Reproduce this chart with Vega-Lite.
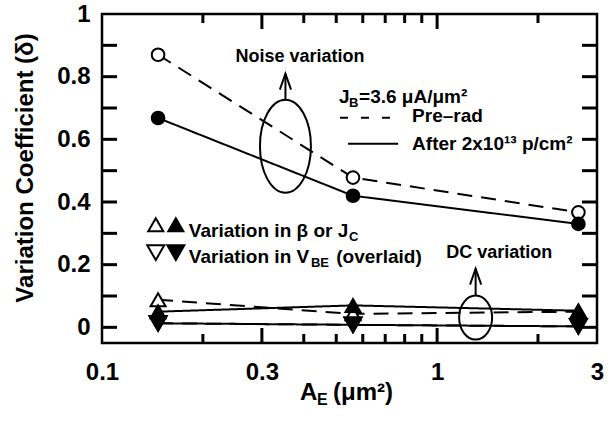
{
  "$schema": "https://vega.github.io/schema/vega-lite/v6.json",
  "width": 495,
  "height": 329,
  "autosize": {"type": "none"},
  "padding": {"left": 102, "top": 14, "right": 16, "bottom": 81},
  "background": "white",
  "config": {
    "view": {"stroke": "black", "strokeWidth": 2.5},
    "font": "Liberation Sans",
    "axis": {"grid": false, "labelFont": "Liberation Sans", "labelFontWeight": "bold", "labelColor": "black", "tickColor": "black", "titleColor": "black", "titleFont": "Liberation Sans"},
    "text": {"font": "Liberation Sans", "fontWeight": "bold", "color": "black"}
  },
  "datasets": {
    "main": [
      {"A": 0.147, "delta": 0.87, "kind": "noise", "cond": "pre"},
      {"A": 0.561, "delta": 0.478, "kind": "noise", "cond": "pre"},
      {"A": 2.64, "delta": 0.367, "kind": "noise", "cond": "pre"},
      {"A": 0.147, "delta": 0.088, "kind": "beta", "cond": "pre"},
      {"A": 0.561, "delta": 0.043, "kind": "beta", "cond": "pre"},
      {"A": 2.64, "delta": 0.05, "kind": "beta", "cond": "pre"},
      {"A": 0.147, "delta": 0.013, "kind": "vbe", "cond": "pre"},
      {"A": 0.561, "delta": 0.008, "kind": "vbe", "cond": "pre"},
      {"A": 2.64, "delta": 0.003, "kind": "vbe", "cond": "pre"},
      {"A": 0.147, "delta": 0.668, "kind": "noise", "cond": "post"},
      {"A": 0.561, "delta": 0.42, "kind": "noise", "cond": "post"},
      {"A": 2.64, "delta": 0.33, "kind": "noise", "cond": "post"},
      {"A": 0.147, "delta": 0.05, "kind": "beta", "cond": "post"},
      {"A": 0.561, "delta": 0.07, "kind": "beta", "cond": "post"},
      {"A": 2.64, "delta": 0.053, "kind": "beta", "cond": "post"},
      {"A": 0.147, "delta": 0.013, "kind": "vbe", "cond": "post"},
      {"A": 0.561, "delta": 0.008, "kind": "vbe", "cond": "post"},
      {"A": 2.64, "delta": 0.003, "kind": "vbe", "cond": "post"}
    ],
    "xMajor": [{"A": 0.3, "lo": -0.05, "hi": 1}, {"A": 1, "lo": -0.05, "hi": 1}],
    "xMinor": [{"A": 0.2, "lo": -0.05, "hi": 1}, {"A": 0.4, "lo": -0.05, "hi": 1}, {"A": 0.5, "lo": -0.05, "hi": 1}, {"A": 0.6, "lo": -0.05, "hi": 1}, {"A": 0.7, "lo": -0.05, "hi": 1}, {"A": 0.8, "lo": -0.05, "hi": 1}, {"A": 0.9, "lo": -0.05, "hi": 1}, {"A": 2, "lo": -0.05, "hi": 1}],
    "yTicks": [{"v": 0, "l": 0.1, "r": 3}, {"v": 0.1, "l": 0.1, "r": 3}, {"v": 0.2, "l": 0.1, "r": 3}, {"v": 0.3, "l": 0.1, "r": 3}, {"v": 0.4, "l": 0.1, "r": 3}, {"v": 0.5, "l": 0.1, "r": 3}, {"v": 0.6, "l": 0.1, "r": 3}, {"v": 0.7, "l": 0.1, "r": 3}, {"v": 0.8, "l": 0.1, "r": 3}, {"v": 0.9, "l": 0.1, "r": 3}],
    "legendMarks": [
      {"A": 0.1447, "delta": 0.3276, "kind": "beta", "cond": "pre"},
      {"A": 0.1661, "delta": 0.3276, "kind": "beta", "cond": "post"},
      {"A": 0.1447, "delta": 0.2383, "kind": "vbe", "cond": "pre"},
      {"A": 0.1661, "delta": 0.2383, "kind": "vbe", "cond": "post"}
    ],
    "arrows": [
      {"A": 0.3527, "y1": 0.726, "y2": 0.809},
      {"A": 1.303, "y1": 0.101, "y2": 0.187}
    ],
    "heads": [
      {"A": 0.3527, "delta": 0.784},
      {"A": 1.303, "delta": 0.1617}
    ],
    "annot": [
      {"A": 0.3897, "delta": 0.8475, "t": "Noise variation"},
      {"A": 1.532, "delta": 0.2223, "t": "DC variation"}
    ],
    "legendText": [
      {"A": 0.5095, "delta": 0.7168, "t": "J"},
      {"A": 0.5848, "delta": 0.7168, "t": "=3.6 μA/μm²"},
      {"A": 0.842, "delta": 0.6561, "t": "Pre–rad"},
      {"A": 0.842, "delta": 0.5668, "t": "After 2x10¹³ p/cm²"},
      {"A": 0.1816, "delta": 0.2893, "t": "Variation in β or J"},
      {"A": 0.1816, "delta": 0.2064, "t": "Variation in V"},
      {"A": 0.5, "delta": 0.2064, "t": "(overlaid)"}
    ],
    "subText": [
      {"A": 0.546, "delta": 0.704, "t": "B"},
      {"A": 0.546, "delta": 0.2766, "t": "C"},
      {"A": 0.4203, "delta": 0.1936, "t": "BE"}
    ],
    "xTitle": [
      {"A": 0.3897, "delta": -0.2306, "t": "A"},
      {"A": 0.489, "delta": -0.2306, "t": "(μm²)"}
    ],
    "xTitleSub": [
      {"A": 0.438, "delta": -0.2466, "t": "E"}
    ]
  },
  "resolve": {"axis": {"x": "independent", "y": "independent"}},
  "layer": [
    {
      "data": {"name": "main"},
      "mark": {"type": "line", "color": "black", "strokeWidth": 2},
      "encoding": {
        "x": {"field": "A", "type": "quantitative", "scale": {"type": "log", "domain": [0.1, 3], "nice": false},
              "axis": {"orient": "bottom", "values": [0.1, 0.3, 1, 3], "format": "~g", "ticks": false, "domain": false, "labelPadding": 17, "labelFontSize": 24, "labelFlush": false, "labelOverlap": false, "title": null}},
        "y": {"field": "delta", "type": "quantitative", "scale": {"domain": [-0.05, 1], "nice": false, "zero": false},
              "axis": {"orient": "left", "values": [0, 0.2, 0.4, 0.6, 0.8, 1], "format": "~g", "ticks": false, "domain": false, "labelPadding": 12, "labelFontSize": 24, "labelFlush": false, "labelOverlap": false,
                       "title": "Variation Coefficient (δ)", "titleFontSize": 24, "titleFontWeight": "bold", "titleX": -77, "titleY": 153.5, "titleAngle": -90, "titleAlign": "center", "titleBaseline": "middle"}},
        "detail": {"field": "kind", "type": "nominal"},
        "strokeDash": {"field": "cond", "type": "nominal", "scale": {"domain": ["pre", "post"], "range": [[15, 9], [1, 0]]}, "legend": null}
      }
    },
    {
      "data": {"name": "xMajor"},
      "mark": {"type": "tick", "orient": "vertical", "color": "black", "opacity": 1, "size": 15, "thickness": 3, "yOffset": -7.5},
      "encoding": {
        "x": {"field": "A", "type": "quantitative", "scale": {"type": "log", "domain": [0.1, 3], "nice": false}, "axis": null},
        "y": {"field": "lo", "type": "quantitative", "scale": {"domain": [-0.05, 1], "nice": false, "zero": false}, "axis": null}
      }
    },
    {
      "data": {"name": "xMajor"},
      "mark": {"type": "tick", "orient": "vertical", "color": "black", "opacity": 1, "size": 15, "thickness": 3, "yOffset": 7.5},
      "encoding": {
        "x": {"field": "A", "type": "quantitative", "scale": {"type": "log", "domain": [0.1, 3], "nice": false}, "axis": null},
        "y": {"field": "hi", "type": "quantitative", "scale": {"domain": [-0.05, 1], "nice": false, "zero": false}, "axis": null}
      }
    },
    {
      "data": {"name": "xMinor"},
      "mark": {"type": "tick", "orient": "vertical", "color": "black", "opacity": 1, "size": 9, "thickness": 3, "yOffset": -4.5},
      "encoding": {
        "x": {"field": "A", "type": "quantitative", "scale": {"type": "log", "domain": [0.1, 3], "nice": false}, "axis": null},
        "y": {"field": "lo", "type": "quantitative", "scale": {"domain": [-0.05, 1], "nice": false, "zero": false}, "axis": null}
      }
    },
    {
      "data": {"name": "xMinor"},
      "mark": {"type": "tick", "orient": "vertical", "color": "black", "opacity": 1, "size": 9, "thickness": 3, "yOffset": 4.5},
      "encoding": {
        "x": {"field": "A", "type": "quantitative", "scale": {"type": "log", "domain": [0.1, 3], "nice": false}, "axis": null},
        "y": {"field": "hi", "type": "quantitative", "scale": {"domain": [-0.05, 1], "nice": false, "zero": false}, "axis": null}
      }
    },
    {
      "data": {"name": "yTicks"},
      "mark": {"type": "tick", "orient": "horizontal", "color": "black", "opacity": 1, "size": 15, "thickness": 3, "xOffset": 7.5},
      "encoding": {
        "y": {"field": "v", "type": "quantitative", "scale": {"domain": [-0.05, 1], "nice": false, "zero": false}, "axis": null},
        "x": {"field": "l", "type": "quantitative", "scale": {"type": "log", "domain": [0.1, 3], "nice": false}, "axis": null}
      }
    },
    {
      "data": {"name": "yTicks"},
      "mark": {"type": "tick", "orient": "horizontal", "color": "black", "opacity": 1, "size": 15, "thickness": 3, "xOffset": -7.5},
      "encoding": {
        "y": {"field": "v", "type": "quantitative", "scale": {"domain": [-0.05, 1], "nice": false, "zero": false}, "axis": null},
        "x": {"field": "r", "type": "quantitative", "scale": {"type": "log", "domain": [0.1, 3], "nice": false}, "axis": null}
      }
    },
    {
      "data": {"name": "main"},
      "mark": {"type": "point", "filled": true, "stroke": "black", "strokeWidth": 2, "opacity": 1},
      "encoding": {
        "x": {"field": "A", "type": "quantitative", "scale": {"type": "log", "domain": [0.1, 3], "nice": false}, "axis": null},
        "y": {"field": "delta", "type": "quantitative", "scale": {"domain": [-0.05, 1], "nice": false, "zero": false}, "axis": null},
        "shape": {"field": "kind", "type": "nominal", "scale": {"domain": ["noise", "beta", "vbe"], "range": ["circle", "triangle-up", "triangle-down"]}, "legend": null},
        "fill": {"field": "cond", "type": "nominal", "scale": {"domain": ["pre", "post"], "range": ["white", "black"]}, "legend": null},
        "size": {"field": "kind", "type": "ordinal", "scale": {"domain": ["noise", "beta", "vbe"], "range": [160, 290, 290]}, "legend": null}
      }
    },
    {
      "data": {"values": [{"A": 0.3527, "delta": 0.578}]},
      "mark": {"type": "point", "filled": false, "stroke": "black", "strokeWidth": 2, "opacity": 1,
               "shape": "M0,-1C0.3027,-1,0.548,-0.5523,0.548,0C0.548,0.5523,0.3027,1,0,1C-0.3027,1,-0.548,0.5523,-0.548,0C-0.548,-0.5523,-0.3027,-1,0,-1Z", "size": 8649},
      "encoding": {
        "x": {"field": "A", "type": "quantitative", "scale": {"type": "log", "domain": [0.1, 3], "nice": false}, "axis": null},
        "y": {"field": "delta", "type": "quantitative", "scale": {"domain": [-0.05, 1], "nice": false, "zero": false}, "axis": null}
      }
    },
    {
      "data": {"values": [{"A": 1.303, "delta": 0.031}]},
      "mark": {"type": "point", "filled": false, "stroke": "black", "strokeWidth": 2, "opacity": 1,
               "shape": "M0,-1C0.4142,-1,0.75,-0.5523,0.75,0C0.75,0.5523,0.4142,1,0,1C-0.4142,1,-0.75,0.5523,-0.75,0C-0.75,-0.5523,-0.4142,-1,0,-1Z", "size": 1936},
      "encoding": {
        "x": {"field": "A", "type": "quantitative", "scale": {"type": "log", "domain": [0.1, 3], "nice": false}, "axis": null},
        "y": {"field": "delta", "type": "quantitative", "scale": {"domain": [-0.05, 1], "nice": false, "zero": false}, "axis": null}
      }
    },
    {
      "data": {"name": "arrows"},
      "mark": {"type": "rule", "color": "black", "strokeWidth": 2},
      "encoding": {
        "x": {"field": "A", "type": "quantitative", "scale": {"type": "log", "domain": [0.1, 3], "nice": false}, "axis": null},
        "y": {"field": "y1", "type": "quantitative", "scale": {"domain": [-0.05, 1], "nice": false, "zero": false}, "axis": null},
        "y2": {"field": "y2"}
      }
    },
    {
      "data": {"name": "heads"},
      "mark": {"type": "point", "filled": false, "stroke": "black", "strokeWidth": 2, "opacity": 1, "shape": "M-0.7,1L0,-1L0.7,1", "size": 256},
      "encoding": {
        "x": {"field": "A", "type": "quantitative", "scale": {"type": "log", "domain": [0.1, 3], "nice": false}, "axis": null},
        "y": {"field": "delta", "type": "quantitative", "scale": {"domain": [-0.05, 1], "nice": false, "zero": false}, "axis": null}
      }
    },
    {
      "data": {"name": "legendMarks"},
      "mark": {"type": "point", "filled": true, "stroke": "black", "strokeWidth": 2, "opacity": 1},
      "encoding": {
        "x": {"field": "A", "type": "quantitative", "scale": {"type": "log", "domain": [0.1, 3], "nice": false}, "axis": null},
        "y": {"field": "delta", "type": "quantitative", "scale": {"domain": [-0.05, 1], "nice": false, "zero": false}, "axis": null},
        "shape": {"field": "kind", "type": "nominal", "legend": null},
        "fill": {"field": "cond", "type": "nominal", "legend": null},
        "size": {"field": "kind", "type": "ordinal", "legend": null}
      }
    },
    {
      "data": {"values": [{"A1": 0.513, "A2": 0.7237, "delta": 0.669}]},
      "mark": {"type": "rule", "color": "black", "strokeWidth": 2, "strokeDash": [8, 13]},
      "encoding": {
        "x": {"field": "A1", "type": "quantitative", "scale": {"type": "log", "domain": [0.1, 3], "nice": false}, "axis": null},
        "x2": {"field": "A2"},
        "y": {"field": "delta", "type": "quantitative", "scale": {"domain": [-0.05, 1], "nice": false, "zero": false}, "axis": null}
      }
    },
    {
      "data": {"values": [{"A1": 0.542, "A2": 0.765, "delta": 0.586}]},
      "mark": {"type": "rule", "color": "black", "strokeWidth": 2},
      "encoding": {
        "x": {"field": "A1", "type": "quantitative", "scale": {"type": "log", "domain": [0.1, 3], "nice": false}, "axis": null},
        "x2": {"field": "A2"},
        "y": {"field": "delta", "type": "quantitative", "scale": {"domain": [-0.05, 1], "nice": false, "zero": false}, "axis": null}
      }
    },
    {
      "data": {"name": "annot"},
      "mark": {"type": "text", "fontSize": 18, "align": "center", "baseline": "alphabetic"},
      "encoding": {
        "x": {"field": "A", "type": "quantitative", "scale": {"type": "log", "domain": [0.1, 3], "nice": false}, "axis": null},
        "y": {"field": "delta", "type": "quantitative", "scale": {"domain": [-0.05, 1], "nice": false, "zero": false}, "axis": null},
        "text": {"field": "t", "type": "nominal"}
      }
    },
    {
      "data": {"name": "legendText"},
      "mark": {"type": "text", "fontSize": 19, "align": "left", "baseline": "alphabetic"},
      "encoding": {
        "x": {"field": "A", "type": "quantitative", "scale": {"type": "log", "domain": [0.1, 3], "nice": false}, "axis": null},
        "y": {"field": "delta", "type": "quantitative", "scale": {"domain": [-0.05, 1], "nice": false, "zero": false}, "axis": null},
        "text": {"field": "t", "type": "nominal"}
      }
    },
    {
      "data": {"name": "subText"},
      "mark": {"type": "text", "fontSize": 13, "align": "left", "baseline": "alphabetic"},
      "encoding": {
        "x": {"field": "A", "type": "quantitative", "scale": {"type": "log", "domain": [0.1, 3], "nice": false}, "axis": null},
        "y": {"field": "delta", "type": "quantitative", "scale": {"domain": [-0.05, 1], "nice": false, "zero": false}, "axis": null},
        "text": {"field": "t", "type": "nominal"}
      }
    },
    {
      "data": {"name": "xTitle"},
      "mark": {"type": "text", "fontSize": 24, "align": "left", "baseline": "alphabetic"},
      "encoding": {
        "x": {"field": "A", "type": "quantitative", "scale": {"type": "log", "domain": [0.1, 3], "nice": false}, "axis": null},
        "y": {"field": "delta", "type": "quantitative", "scale": {"domain": [-0.05, 1], "nice": false, "zero": false}, "axis": null},
        "text": {"field": "t", "type": "nominal"}
      }
    },
    {
      "data": {"name": "xTitleSub"},
      "mark": {"type": "text", "fontSize": 16, "align": "left", "baseline": "alphabetic"},
      "encoding": {
        "x": {"field": "A", "type": "quantitative", "scale": {"type": "log", "domain": [0.1, 3], "nice": false}, "axis": null},
        "y": {"field": "delta", "type": "quantitative", "scale": {"domain": [-0.05, 1], "nice": false, "zero": false}, "axis": null},
        "text": {"field": "t", "type": "nominal"}
      }
    }
  ]
}
